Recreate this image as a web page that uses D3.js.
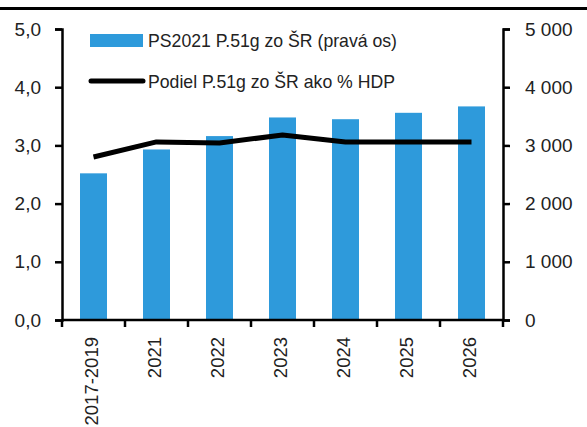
<!DOCTYPE html>
<html><head><meta charset="utf-8">
<script src="https://cdn.jsdelivr.net/npm/d3@7"></script>
<style>body{margin:0;background:#fff}svg{display:block}text{font-family:"Liberation Sans",Arial,sans-serif;fill:#222}</style>
</head><body><svg id="c" width="587" height="427"></svg>
<script>
const categories = ["2017-2019","2021","2022","2023","2024","2025","2026"];
const barValues = [2520, 2930, 3160, 3480, 3450, 3560, 3670];
const lineValues = [2.80, 3.06, 3.04, 3.18, 3.06, 3.06, 3.06];
const leftTicks = [0,1,2,3,4,5];
const rightTicks = [0,1000,2000,3000,4000,5000];
const barLabel = "PS2021 P.51g zo ŠR (pravá os)";
const lineLabel = "Podiel P.51g zo ŠR ako % HDP";

const svg = d3.select("#c");
const L = 62, R = 503, T = 29, B = 320;
const xb = d3.scaleBand().domain(categories).range([L, R]);
const yL = d3.scaleLinear().domain([0,5]).range([B, T]);
const yR = d3.scaleLinear().domain([0,5000]).range([B, T]);
const blue = "#2E9ADB";

// top rule
svg.append("rect").attr("x",0).attr("y",7).attr("width",587).attr("height",3).attr("fill","#000");

// bars
svg.selectAll(".bar").data(categories).join("rect")
  .attr("x", d => xb(d) + xb.bandwidth()/2 - 13.5)
  .attr("width", 27)
  .attr("y", (d,i) => yR(barValues[i]))
  .attr("height", (d,i) => B - yR(barValues[i]))
  .attr("fill", blue);

// line
const line = d3.line().x((d,i) => xb(categories[i]) + xb.bandwidth()/2).y(d => yL(d));
svg.append("path").datum(lineValues).attr("d", line)
  .attr("fill","none").attr("stroke","#000").attr("stroke-width",5).attr("stroke-linejoin","round");

// axes
const fmtL = d3.format(".1f");
const axL = d3.axisLeft(yL).tickValues(leftTicks).tickSize(7).tickPadding(14).tickFormat(d => fmtL(d).replace(".", ","));
const axR = d3.axisRight(yR).tickValues(rightTicks).tickSize(7).tickPadding(15).tickFormat(d => d3.format(",")(d).replace(/,/g, " "));
const gL = svg.append("g").attr("transform",`translate(${L},0)`).call(axL);
const gR = svg.append("g").attr("transform",`translate(${R},0)`).call(axR);
[gL,gR].forEach(g => {
  g.select(".domain").attr("stroke","#000").attr("stroke-width",2.5);
  g.selectAll(".tick line").attr("stroke","#000").attr("stroke-width",2.5);
  g.selectAll("text").attr("font-size",19).style("font-family",'"Liberation Sans",Arial,sans-serif').attr("fill","#222");
});

// bottom axis
svg.append("line").attr("x1",L).attr("x2",R).attr("y1",B).attr("y2",B).attr("stroke","#000").attr("stroke-width",2.5);
const bounds = categories.map(c => xb(c)).concat([R]);
svg.selectAll(".xt").data(bounds).join("line")
  .attr("x1", d => d).attr("x2", d => d).attr("y1", B).attr("y2", B+7)
  .attr("stroke","#000").attr("stroke-width",2.5);
svg.selectAll(".xl").data(categories).join("text")
  .attr("transform", d => `translate(${xb(d)+xb.bandwidth()/2+4.5},337) rotate(-90)`)
  .attr("text-anchor","end").attr("font-size",18.5).text(d => d);

// legend
svg.append("rect").attr("x",90).attr("y",34).attr("width",53).attr("height",13).attr("fill",blue);
svg.append("text").attr("x",148).attr("y",47).attr("font-size",18.5)
  .attr("textLength",249).attr("lengthAdjust","spacingAndGlyphs").text(barLabel);
svg.append("line").attr("x1",91).attr("x2",143).attr("y1",81).attr("y2",81).attr("stroke","#000").attr("stroke-width",5).attr("stroke-linecap","round");
svg.append("text").attr("x",148).attr("y",88).attr("font-size",18.5)
  .attr("textLength",247).attr("lengthAdjust","spacingAndGlyphs").text(lineLabel);
</script></body></html>
